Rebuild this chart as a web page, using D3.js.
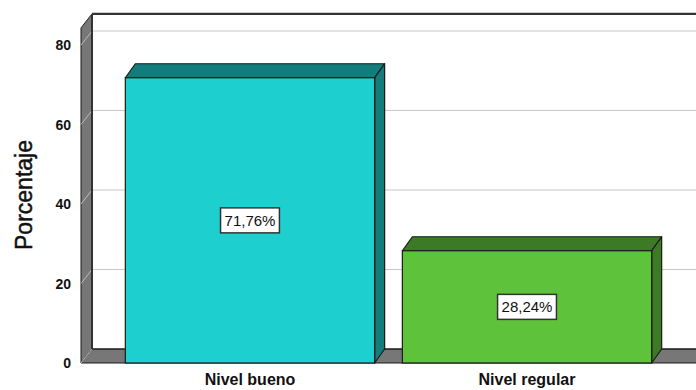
<!DOCTYPE html>
<html><head><meta charset="utf-8">
<script src="https://cdn.jsdelivr.net/npm/d3@7"></script>
<style>body{margin:0;background:#fff}svg{display:block}</style>
</head><body>
<svg id="c" width="696" height="390"></svg>
<script>
const categories = ["Nivel bueno", "Nivel regular"];
const values = [71.76, 28.24];
const valueLabels = ["71,76%", "28,24%"];
const yTicks = [0, 20, 40, 60, 80];
const yTitle = "Porcentaje";

const frontColors = ["#1ecfcf", "#5ec23b"];
const darkColors = ["#127d7a", "#3d7a25"];

const svg = d3.select("#c");
const W = 696, H = 390;
const dxW = 11, dyW = 14;   // wall depth
const dxB = 10, dyB = 14;   // bar depth
const y = d3.scaleLinear().domain([0, 80]).range([363, 45]);
const yMax = 84.3;
const x = d3.scaleBand().domain(categories).range([81, 696]).paddingInner(0.1).paddingOuter(0.16);
const left = 81;
const stroke = "#1a1a1a";

// back wall
svg.append("rect").attr("x", left + dxW).attr("y", y(yMax) - dyW)
  .attr("width", W).attr("height", y(0) - y(yMax)).attr("fill", "#fff");
// gridlines on back wall and side wall
yTicks.forEach(t => {
  if (t === 0) return;
  svg.append("line").attr("x1", left + dxW).attr("x2", W + 5)
    .attr("y1", y(t) - dyW).attr("y2", y(t) - dyW).attr("stroke", "#c8c8c8").attr("stroke-width", 1.2);
});
// side wall
svg.append("path").attr("d", `M${left},${y(0)}L${left},${y(yMax)}L${left+dxW},${y(yMax)-dyW}L${left+dxW},${y(0)-dyW}Z`)
  .attr("fill", "#777").attr("stroke", stroke).attr("stroke-width", 1);
yTicks.forEach(t => {
  svg.append("line").attr("x1", left).attr("y1", y(t)).attr("x2", left + dxW).attr("y2", y(t) - dyW)
    .attr("stroke", "#bdbdbd").attr("stroke-width", 1);
});
// floor
svg.append("path").attr("d", `M${left},${y(0)}L${left+dxW},${y(0)-dyW}L${W+5},${y(0)-dyW}L${W+5},${y(0)}Z`)
  .attr("fill", "#777").attr("stroke", stroke).attr("stroke-width", 1);
svg.append("line").attr("x1", left).attr("y1", y(0)).attr("x2", left + dxW).attr("y2", y(0) - dyW)
  .attr("stroke", "#bdbdbd").attr("stroke-width", 1);
// back wall borders
svg.append("line").attr("x1", left + dxW).attr("x2", W + 5).attr("y1", y(yMax) - dyW).attr("y2", y(yMax) - dyW)
  .attr("stroke", "#333").attr("stroke-width", 2.2);
svg.append("line").attr("x1", left + dxW).attr("x2", left + dxW).attr("y1", y(yMax) - dyW).attr("y2", y(0) - dyW)
  .attr("stroke", "#333").attr("stroke-width", 2);
svg.append("line").attr("x1", left + dxW).attr("x2", W + 5).attr("y1", y(0) - dyW).attr("y2", y(0) - dyW)
  .attr("stroke", stroke).attr("stroke-width", 1);

// bars
categories.forEach((c, i) => {
  const x0 = x(c), x1 = x(c) + x.bandwidth(), yt = y(values[i]), yb = y(0);
  const g = svg.append("g");
  g.append("path").attr("d", `M${x0},${yt}L${x0+dxB},${yt-dyB}L${x1+dxB},${yt-dyB}L${x1},${yt}Z`)
    .attr("fill", darkColors[i]).attr("stroke", stroke).attr("stroke-width", 1.2).attr("stroke-linejoin", "round");
  g.append("path").attr("d", `M${x1},${yt}L${x1+dxB},${yt-dyB}L${x1+dxB},${yb-dyB}L${x1},${yb}Z`)
    .attr("fill", darkColors[i]).attr("stroke", stroke).attr("stroke-width", 1.2).attr("stroke-linejoin", "round");
  g.append("rect").attr("x", x0).attr("y", yt).attr("width", x.bandwidth()).attr("height", yb - yt)
    .attr("fill", frontColors[i]).attr("stroke", stroke).attr("stroke-width", 1.2);
  // value label
  const cx = x0 + x.bandwidth() / 2, cy = (yt + yb) / 2;
  const t = g.append("text").attr("x", cx).attr("y", cy).attr("text-anchor", "middle").attr("dy", "0.36em")
    .attr("font-family", "Liberation Sans, Arial, sans-serif").attr("font-size", 15).attr("fill", "#111")
    .text(valueLabels[i]);
  const bb = t.node().getBBox();
  g.insert("rect", "text").attr("x", bb.x - 4).attr("y", cy - 12.5).attr("width", bb.width + 8).attr("height", 25)
    .attr("fill", "#fff").attr("stroke", "#333").attr("stroke-width", 1.5);
});

// y tick labels
svg.selectAll(".yt").data(yTicks).enter().append("text")
  .attr("x", 71).attr("y", d => y(d)).attr("dy", "0.36em").attr("text-anchor", "end")
  .attr("font-family", "Liberation Sans, Arial, sans-serif").attr("font-weight", "bold").attr("font-size", 14)
  .attr("fill", "#111").text(d => d);

// category labels
svg.selectAll(".xl").data(categories).enter().append("text")
  .attr("x", d => x(d) + x.bandwidth() / 2).attr("y", 385).attr("text-anchor", "middle")
  .attr("font-family", "Liberation Sans, Arial, sans-serif").attr("font-weight", "bold").attr("font-size", 16)
  .attr("fill", "#111").text(d => d);

// y title
svg.append("text").attr("transform", `translate(32,195) rotate(-90)`).attr("text-anchor", "middle")
  .attr("font-family", "Liberation Sans, Arial, sans-serif").attr("font-size", 23).attr("fill", "#111")
  .attr("stroke", "#111").attr("stroke-width", 0.5)
  .text(yTitle);
</script>
</body></html>
